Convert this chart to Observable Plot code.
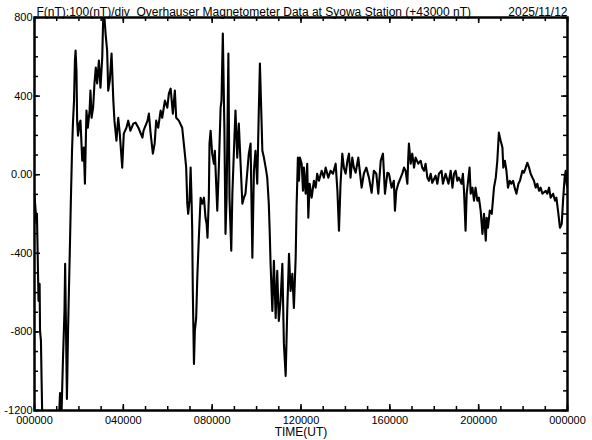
<!DOCTYPE html>
<html><head><meta charset="utf-8">
<script src="https://cdn.jsdelivr.net/npm/d3@7"></script>
<script src="https://cdn.jsdelivr.net/npm/@observablehq/plot@0.6"></script>
<style>body{margin:0;background:#fff} svg{display:block}</style>
</head><body><div id="chart"></div>
<script>
// time in hours UT (2025/11/12), F deviation in nT (+43000 nT)
const hours = [
0.00,0.05,0.09,0.11,0.14,0.18,0.23,0.25,0.29,0.32,0.36,
1.08,1.15,1.22,1.28,1.35,1.38,1.42,1.46,1.51,1.55,1.60,1.64,1.69,1.73,1.78,1.82,1.85,1.89,1.92,1.96,
2.03,2.07,2.15,2.22,2.27,2.34,2.40,2.48,2.52,2.57,2.64,2.70,2.76,2.82,2.90,2.97,
3.05,3.09,3.12,3.15,3.20,3.27,3.32,3.39,3.47,3.55,3.60,3.69,3.77,3.84,3.95,
4.02,4.14,4.22,4.32,4.45,4.55,4.68,4.86,4.91,5.09,5.15,5.23,5.33,5.41,5.48,5.57,5.68,5.75,5.87,5.98,
6.05,6.13,6.23,6.32,6.38,6.50,6.65,6.77,6.83,6.88,6.92,6.98,
7.03,7.07,7.10,7.13,7.18,7.22,7.28,7.33,7.40,7.48,7.55,7.63,7.70,7.75,7.79,7.85,7.88,7.93,
8.00,8.08,8.12,8.18,8.23,8.30,8.38,8.42,8.48,8.55,8.60,8.65,8.73,8.78,8.86,8.91,8.98,
9.05,9.13,9.20,9.28,9.36,9.43,9.50,9.65,9.73,9.81,9.88,9.95,
10.03,10.10,10.15,10.21,10.26,10.33,10.41,10.48,10.55,10.59,10.63,10.71,10.78,10.86,10.93,
11.00,11.08,11.16,11.23,11.31,11.38,11.46,11.53,11.61,11.68,11.76,11.80,11.86,11.91,11.95,
12.03,12.09,12.13,12.21,12.28,12.33,12.39,12.48,12.58,12.66,12.73,12.81,12.93,
13.03,13.11,13.23,13.33,13.44,13.56,13.64,13.71,13.78,13.86,13.93,
14.01,14.09,14.16,14.23,14.31,14.38,14.46,14.58,14.68,14.73,14.83,14.94,
15.06,15.18,15.28,15.39,15.48,15.59,15.69,15.78,15.89,15.96,
16.08,16.18,16.23,16.29,16.38,16.49,16.56,16.64,16.71,16.79,16.83,16.86,16.94,
17.01,17.09,17.16,17.28,17.39,17.46,17.54,17.61,17.69,17.76,17.84,17.91,
18.06,18.14,18.21,18.33,18.39,18.51,18.64,18.74,18.82,18.89,18.96,
19.04,19.11,19.23,19.29,19.34,19.41,19.46,19.54,19.59,19.64,19.72,19.79,19.86,19.94,
20.01,20.09,20.17,20.24,20.32,20.36,20.42,20.50,20.59,20.69,20.77,20.84,20.91,20.99,
21.07,21.11,21.18,21.25,21.32,21.40,21.47,21.55,21.62,21.70,21.79,21.86,21.97,
22.04,22.12,22.19,22.27,22.34,22.42,22.49,22.57,22.64,22.72,22.79,22.87,
23.02,23.09,23.17,23.24,23.35,23.44,23.50,23.59,23.66,23.74,23.80,23.87,23.92,23.96,24.00
];
const nT = [
-107,-183,-245,-199,-387,-642,-555,-795,-846,-1050,-1300,
-1300,-1111,-1200,-948,-693,-453,-795,-1141,-795,-591,-336,-117,122,260,377,581,632,530,275,199,
265,275,71,138,-46,326,239,326,428,290,341,464,545,464,581,443,
596,785,830,800,718,632,428,479,617,377,275,173,290,209,36,
209,239,275,224,260,265,239,189,224,275,311,209,107,158,275,239,326,290,377,341,
413,438,311,428,290,275,239,107,36,-148,-199,-132,
36,-117,-270,-606,-963,-795,-729,-525,-321,-117,-148,-117,-219,-250,-321,-117,158,224,
107,56,122,-46,-183,36,341,377,718,239,-301,-117,617,-117,-387,-97,122,
326,87,260,56,-148,-117,-97,107,158,-423,20,122,
-46,326,566,326,122,87,36,-15,-148,-285,-453,-693,-438,-729,-489,
-744,-642,-453,-861,-1024,-693,-403,-591,-504,-678,-423,-168,87,-31,87,
56,-82,36,-97,56,-219,-46,-117,-31,-66,5,-31,20,
-15,36,-15,20,5,56,-82,-285,-46,107,36,
5,71,107,-15,87,36,10,87,-15,-66,5,36,
-15,-92,20,5,-97,71,107,-97,10,5,
-66,-31,-183,-82,-46,-15,5,36,20,-46,87,158,56,
107,36,87,56,71,36,20,56,-15,-31,5,-41,
-5,-46,5,20,-46,5,-46,20,-66,5,20,
-31,-15,-46,5,-82,-285,-97,-15,36,-97,-66,-132,-66,-132,
-117,-183,-301,-199,-336,-219,-270,-183,-199,-66,-15,71,214,173,
138,36,71,20,-66,-31,-46,-31,-66,-97,-46,-31,20,
10,36,61,36,5,-15,-31,-66,-46,-82,-66,-97,
-82,-97,-66,-117,-97,-132,-117,-199,-270,-250,-132,-15,20,-46,-66
];
const xTickHours = [0,4,8,12,16,20,24];
const xTickLabels = ["000000","040000","080000","120000","160000","200000","000000"];
const yTickValues = [-1200,-800,-400,0,400,800];
const yTickLabels = ["-1200","-800","-400","0.00","400","800"];
const titleText = "F(nT):100(nT)/div  Overhauser Magnetometer Data at Syowa Station (+43000 nT)";
const dateText = "2025/11/12";
const xLabel = "TIME(UT)";

const data = hours.map((h, i) => ({h, v: nT[i]}));
const minorX = d3.range(0, 25, 1);
const minorY = d3.range(-1200, 801, 100);

const W = 592, H = 440, mL = 34, mR = 25, mT = 17, mB = 30;
const fw = W - mL - mR, fh = H - mT - mB;
const tk = 4, tkMajor = 6;

const chart = Plot.plot({
  width: W, height: H,
  marginLeft: mL, marginRight: mR, marginTop: mT, marginBottom: mB,
  style: {fontFamily: "'Liberation Sans', Arial, sans-serif", fontSize: "11px", color: "black", background: "white"},
  x: {domain: [0, 24]},
  y: {domain: [-1200, 800]},
  marks: [
    Plot.line(data, {x: "h", y: "v", stroke: "black", strokeWidth: 2.1, clip: true}),
    // inward minor ticks on all four sides
    Plot.ruleX(minorX, {x: d => d, insetTop: fh - tk, stroke: "black", strokeWidth: 1.5}),
    Plot.ruleX(minorX, {x: d => d, insetBottom: fh - tk, stroke: "black", strokeWidth: 1.5}),
    Plot.ruleY(minorY, {y: d => d, insetRight: fw - tk, stroke: "black", strokeWidth: 1.5}),
    Plot.ruleY(minorY, {y: d => d, insetLeft: fw - tk, stroke: "black", strokeWidth: 1.5}),
    // slightly longer major ticks
    Plot.ruleX(xTickHours, {x: d => d, insetTop: fh - tkMajor, stroke: "black", strokeWidth: 1.5}),
    Plot.ruleX(xTickHours, {x: d => d, insetBottom: fh - tkMajor, stroke: "black", strokeWidth: 1.5}),
    Plot.ruleY(yTickValues, {y: d => d, insetRight: fw - tkMajor, stroke: "black", strokeWidth: 1.5}),
    Plot.ruleY(yTickValues, {y: d => d, insetLeft: fw - tkMajor, stroke: "black", strokeWidth: 1.5}),
    Plot.axisX(xTickHours, {anchor: "bottom", tickSize: 0, tickPadding: 6, tickFormat: d => xTickLabels[xTickHours.indexOf(d)], label: null}),
    Plot.axisY(yTickValues, {anchor: "left", tickSize: 0, tickPadding: 2, tickFormat: d => yTickLabels[yTickValues.indexOf(d)], label: null}),
    Plot.frame({stroke: "black", strokeWidth: 2.5}),
    Plot.text([titleText], {frameAnchor: "top-left", textAnchor: "start", lineAnchor: "bottom", dx: 2, dy: -2, fontSize: 12}),
    Plot.text([dateText], {frameAnchor: "top-right", textAnchor: "end", lineAnchor: "bottom", dy: -2, fontSize: 12}),
    Plot.text([xLabel], {frameAnchor: "bottom", lineAnchor: "middle", dy: 22, fontSize: 12})
  ]
});
document.getElementById("chart").append(chart);
</script>
</body></html>
